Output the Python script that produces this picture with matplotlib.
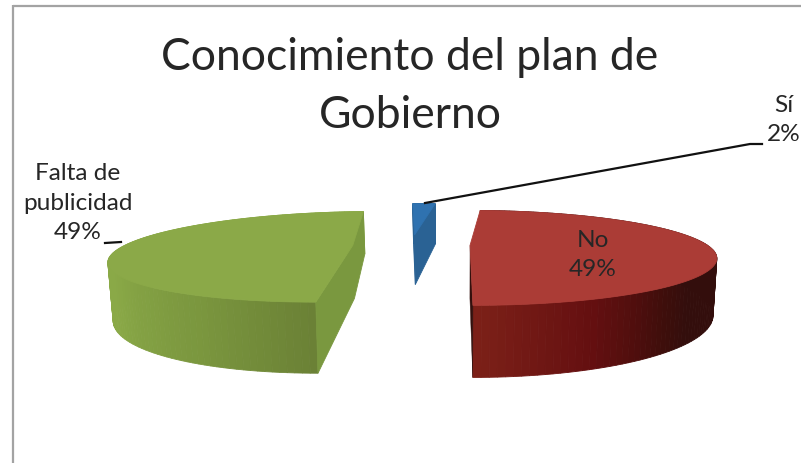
import numpy as np
import matplotlib
matplotlib.use('Agg')
import matplotlib.pyplot as plt
from matplotlib.colors import to_rgb

plt.rcParams['font.family'] = ['Lato', 'DejaVu Sans']

# slices in drawing order, clockwise from the start angle
labels = ['Sí', 'No', 'Falta de\npublicidad']
values = [2, 49, 49]
title_lines = ['Conocimiento del plan de', 'Gobierno']

start_angle = 93.6

top_colors = ['#2f72b0', '#ab3c36', '#8ba948']
wall_colors = ['#2a6294', '#33100d', '#7a983f']
radius = [1, 1, 0.96]

# side gradient: angle on the rim -> colour
side_stops = {
    'No': ([-90, -68, -50, -42, 20], ['#7c2018', '#640f10', '#3e0e0b', '#330e0c', '#330e0c']),
    'Falta de\npublicidad': ([-190, -146, -114, -90], ['#8aa947', '#8aa947', '#7a963e', '#6a8035']),
}

# fake 3d camera, pixels
cx, cy = 462, 245
rx, ry = 237, 44
persp = 0.263
depth = 53
pie_shift = -0.213
explode = 0.247


def project(x, y, bottom=False):
    s = 1 / (1 + persp * y)
    if bottom:
        return cx + rx * x * s * 0.985, cy - ry * y * s + depth * s
    return cx + rx * x * s, cy - ry * y * s


def side_color(name, angle):
    if name not in side_stops:
        return wall_colors[0]
    pos, cols = side_stops[name]
    rgb = np.array([to_rgb(c) for c in cols])
    return tuple(np.interp(angle, pos, rgb[:, i]) for i in range(3))


fig = plt.figure(figsize=(8.01, 4.63), dpi=100)
ax = fig.add_axes([0, 0, 1, 1])
ax.set_xlim(0, 801)
ax.set_ylim(463, 0)
ax.axis('off')

# chart frame, only top and left show
ax.plot([12.5, 801], [5.5, 5.5], color='#a3a3a3', lw=1.6, solid_capstyle='butt')
ax.plot([12.5, 12.5], [5, 463], color='#a3a3a3', lw=1.6, solid_capstyle='butt')

total = sum(values)
hi = start_angle
for i, (name, val) in enumerate(zip(labels, values)):
    lo = hi - val / total * 360
    mid = np.radians((lo + hi) / 2)
    ox = pie_shift + explode * np.cos(mid)
    oy = explode * np.sin(mid)
    t = np.radians(np.linspace(lo, hi, 120))
    rim_x = ox + radius[i] * np.cos(t)
    rim_y = oy + radius[i] * np.sin(t)

    # outer wall
    tx, ty = project(rim_x, rim_y)
    bx, by = project(rim_x, rim_y, bottom=True)
    for k in range(len(t) - 1):
        c = side_color(name, np.degrees(t[k]))
        ax.fill([tx[k], tx[k + 1], bx[k + 1], bx[k]], [ty[k], ty[k + 1], by[k + 1], by[k]],
                color=c, lw=0.6)

    # inner cut walls
    ax_, ay_ = project(ox, oy)
    abx, aby = project(ox, oy, bottom=True)
    if name == 'Falta de\npublicidad':
        ax.fill([tx[-1], ax_, tx[0], bx[0], abx, bx[-1]], [ty[-1], ay_, ty[0], by[0], aby, by[-1]],
                color=wall_colors[i], lw=0.6)
    elif name == 'Sí':
        ax.fill([tx[-1], ax_, abx, bx[-1]], [ty[-1], ay_, aby, by[-1]], color=wall_colors[i], lw=0.6)
        ax.fill([tx[0], ax_, abx, bx[0]], [ty[0], ay_, aby, by[0]], color=wall_colors[i], lw=0.6)
    else:
        ax.fill([tx[0], ax_, abx, bx[0]], [ty[0], ay_, aby, by[0]], color=wall_colors[i], lw=0.3)

    # top face
    ax.fill(np.r_[ax_, tx], np.r_[ay_, ty], color=top_colors[i], lw=0.6)
    hi = lo

txt = '#262626'
pct = [f'{round(v / total * 100)}%' for v in values]

ax.text(410, 58, title_lines[0], ha='center', va='center', fontsize=32, color=txt)
ax.text(410, 115, title_lines[1], ha='center', va='center', fontsize=32, color=txt)
ax.text(784, 120, f'{labels[0]}\n{pct[0]}', ha='center', va='center', fontsize=17.6, color=txt, linespacing=1.5)
ax.text(593, 255, f'{labels[1]}\n{pct[1]}', ha='center', va='center', fontsize=17.6, color=txt, linespacing=1.5)
ax.text(78, 203, f'{labels[2]}\n{pct[2]}', ha='center', va='center', fontsize=17.6, color=txt, linespacing=1.5)

# leader lines
ax.plot([425, 750, 762], [203, 144, 144], color='#111111', lw=1.6)
ax.plot([105, 121], [243, 242], color='#111111', lw=1.6)

fig.savefig('out.png', dpi=100)
